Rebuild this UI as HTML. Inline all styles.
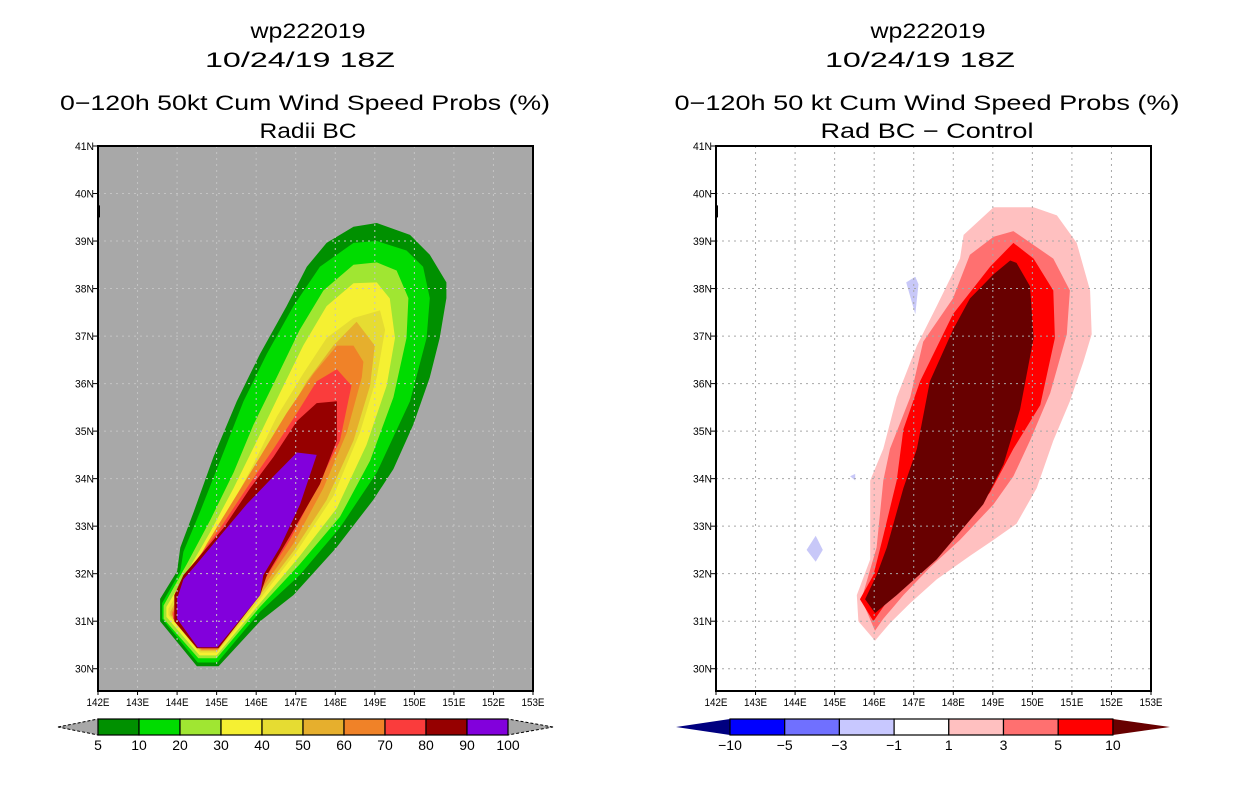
<!DOCTYPE html>
<html><head><meta charset="utf-8"><style>
html,body{margin:0;padding:0;background:#fff;width:1236px;height:800px;overflow:hidden}
svg{display:block;font-family:"Liberation Sans",sans-serif}
</style></head><body>
<svg id="fig" width="1236" height="800" viewBox="0 0 1236 800" xmlns="http://www.w3.org/2000/svg">
<g font-size="21" text-anchor="middle" fill="#000">
<text x="308" y="38" textLength="115" lengthAdjust="spacingAndGlyphs">wp222019</text>
<text x="300" y="67" textLength="190" lengthAdjust="spacingAndGlyphs">10/24/19 18Z</text>
<text x="305" y="110" textLength="490" lengthAdjust="spacingAndGlyphs">0−120h 50kt Cum Wind Speed Probs (%)</text>
<text x="308" y="138" textLength="97" lengthAdjust="spacingAndGlyphs">Radii BC</text>
</g>
<g font-size="21" text-anchor="middle" fill="#000">
<text x="928" y="38" textLength="115" lengthAdjust="spacingAndGlyphs">wp222019</text>
<text x="920" y="67" textLength="190" lengthAdjust="spacingAndGlyphs">10/24/19 18Z</text>
<text x="927" y="110" textLength="505" lengthAdjust="spacingAndGlyphs">0−120h 50 kt Cum Wind Speed Probs (%)</text>
<text x="927" y="138" textLength="213" lengthAdjust="spacingAndGlyphs">Rad BC − Control</text>
</g>
</svg>
<script>
// ---- data (lon, lat) ----
const lonTicks=[142,143,144,145,146,147,148,149,150,151,152,153];
const latTicks=[30,31,32,33,34,35,36,37,38,39,40,41];
const leftLevels=["5","10","20","30","40","50","60","70","80","90","100"];
const leftColors=["#009000","#00dc00","#a0e632","#f5f032","#e6dc32","#e6af2d","#f08228","#fa3c3c","#960000","#8200dc"];
const rightLevels=["−10","−5","−3","−1","1","3","5","10"];
const rightColors=["#0000ff","#7070ff","#c8c8ff","#ffffff","#ffc0c0","#ff7070","#ff0000"];
const prob5=[[143.57,31.47],[143.57,31.0],[144.5,30.05],[145.05,30.05],[146.1,31.0],[146.94,31.55],[148.03,32.55],[148.96,33.55],[149.47,34.2],[149.97,35.13],[150.39,36.13],[150.64,36.96],[150.81,37.8],[150.81,38.13],[150.39,38.71],[149.89,39.13],[149.05,39.38],[148.46,39.3],[147.78,38.96],[147.28,38.46],[146.77,37.63],[146.1,36.63],[145.51,35.63],[144.92,34.46],[144.42,33.3],[144.08,32.55],[144.0,32.05]];
const prob10=[[143.62,31.38],[143.62,31.05],[144.52,30.13],[145.02,30.13],[146.1,31.2],[147.1,31.97],[148.12,32.97],[149.05,34.13],[149.89,35.63],[150.31,36.96],[150.39,37.8],[150.22,38.46],[149.8,38.8],[149.05,39.0],[148.46,38.96],[147.61,38.46],[146.94,37.63],[146.27,36.63],[145.68,35.63],[145.17,34.55],[144.58,33.3],[144.16,32.46],[144.08,32.05]];
const prob20=[[143.66,31.33],[143.66,31.05],[144.54,30.22],[145.0,30.22],[146.1,31.3],[147.1,32.2],[148.12,33.2],[148.88,34.38],[149.47,35.71],[149.8,36.96],[149.85,37.8],[149.55,38.38],[149.05,38.55],[148.46,38.5],[147.7,37.96],[147.1,37.13],[146.52,36.13],[145.93,35.13],[145.43,34.13],[144.84,33.13],[144.25,32.21]];
const prob30=[[143.73,31.3],[143.73,31.09],[144.57,30.28],[145.0,30.28],[146.1,31.38],[147.11,32.38],[148.04,33.38],[148.79,34.71],[149.3,35.96],[149.51,36.96],[149.38,37.79],[149.05,38.13],[148.46,38.11],[147.78,37.63],[147.19,36.8],[146.6,35.8],[146.02,34.8],[145.43,33.8],[144.84,32.88],[144.29,32.09]];
const prob40=[[143.78,31.26],[143.78,31.13],[144.58,30.34],[145.0,30.34],[146.1,31.47],[147.03,32.47],[147.95,33.63],[148.62,34.96],[149.05,36.13],[149.26,37.13],[149.13,37.54],[148.46,37.38],[147.78,36.96],[147.19,36.21],[146.52,35.3],[145.93,34.3],[145.34,33.38],[144.75,32.55],[144.33,32.05]];
const prob50=[[143.83,31.2],[143.83,31.13],[144.6,30.38],[145.02,30.38],[146.1,31.55],[146.94,32.47],[147.78,33.55],[148.46,34.8],[148.88,35.96],[149.0,36.8],[148.54,37.3],[147.95,36.8],[147.28,36.05],[146.6,35.05],[145.93,34.05],[145.26,33.13],[144.58,32.3],[144.37,32.05]];
const prob60=[[143.87,31.18],[143.87,31.13],[144.62,30.4],[145.02,30.4],[146.1,31.63],[146.94,32.63],[147.7,33.8],[148.29,34.96],[148.67,36.13],[148.71,36.46],[148.46,36.8],[148.04,36.8],[147.45,36.21],[146.77,35.38],[146.1,34.46],[145.43,33.55],[144.75,32.63],[144.42,32.13]];
const prob70=[[143.9,31.17],[143.9,31.05],[144.65,30.43],[145.02,30.43],[146.1,31.72],[146.86,32.72],[147.53,33.8],[148.12,34.8],[148.41,35.96],[148.04,36.3],[147.53,36.05],[147.03,35.38],[146.44,34.63],[145.76,33.8],[145.09,32.96],[144.5,32.3]];
const prob80=[[143.93,31.55],[143.93,31.0],[144.5,30.43],[145.05,30.43],[146.1,31.55],[146.27,31.97],[146.86,32.8],[147.61,33.88],[148.04,34.8],[148.04,35.63],[147.53,35.59],[147.03,35.21],[146.44,34.46],[145.85,33.8],[145.17,32.96],[144.5,32.3],[144.16,31.97]];
const prob90=[[144.0,31.47],[144.0,31.05],[144.52,30.45],[145.02,30.45],[146.1,31.55],[146.18,31.97],[146.6,32.55],[147.11,33.46],[147.53,34.5],[147.03,34.55],[146.44,34.05],[145.76,33.46],[145.09,32.8],[144.5,32.21],[144.16,31.88]];
const diff1=[[146.02,30.59],[145.6,31.0],[145.56,31.55],[145.9,32.3],[145.9,33.96],[146.23,34.63],[146.57,35.71],[147.08,36.8],[147.58,37.63],[148.17,38.63],[148.26,39.13],[149.02,39.71],[150.03,39.71],[150.62,39.54],[151.12,38.96],[151.46,37.96],[151.5,37.04],[151.29,36.46],[150.95,35.63],[150.53,34.8],[150.11,33.8],[149.6,33.05],[149.02,32.71],[148.43,32.38],[147.58,31.88],[146.91,31.38],[146.4,30.96]];
const diff3=[[146.02,30.8],[145.68,31.46],[146.06,32.55],[146.23,33.96],[146.4,34.63],[146.91,35.71],[147.24,36.88],[147.99,37.79],[148.42,38.71],[149.02,39.09],[149.52,39.21],[150.53,38.63],[150.95,37.96],[150.87,37.04],[150.45,35.8],[149.94,34.8],[149.52,34.05],[149.02,33.46],[148.17,32.71],[147.41,32.13],[146.74,31.55],[146.23,31.05]];
const diff5=[[145.98,31.0],[145.64,31.46],[145.98,31.97],[146.23,32.8],[146.57,33.96],[146.74,35.04],[147.16,36.05],[147.99,37.46],[148.93,38.46],[149.52,38.96],[150.03,38.63],[150.53,37.96],[150.57,36.96],[150.2,35.55],[149.52,34.63],[148.93,33.71],[148.08,32.88],[147.24,32.3],[146.57,31.71]];
const diff10=[[145.77,31.46],[146.02,31.17],[146.57,31.55],[147.58,32.3],[148.76,33.46],[149.27,34.3],[149.69,35.46],[150.03,36.96],[149.94,38.05],[149.6,38.54],[149.44,38.59],[149.02,38.3],[148.42,37.79],[147.99,37.13],[147.41,36.05],[147.08,34.63],[146.74,33.8],[146.32,32.55],[146.06,31.97]];
const diffNeg1a=[[146.81,38.13],[147.04,38.25],[147.12,38.09],[147.04,37.46]];
const diffNeg1b=[[145.39,34.05],[145.52,34.1],[145.52,33.96]];
const diffNeg1c=[[144.29,32.5],[144.52,32.8],[144.7,32.5],[144.52,32.25]];

const NS="http://www.w3.org/2000/svg";
const svg=document.getElementById('fig');
function mk(tag,attrs,parent){const e=document.createElementNS(NS,tag);for(const k in attrs)e.setAttribute(k,attrs[k]);(parent||svg).appendChild(e);return e;}
const plotTop=146,plotBot=691,plotW=435,lat0=41,pxLat=47.52;
function makeAxes(x0){return{x:lon=>x0+(lon-142)*plotW/11,y:lat=>plotTop+(lat0-lat)*pxLat};}
function poly(g,ax,pts,fill){return mk('polygon',{points:pts.map(p=>ax.x(p[0]).toFixed(1)+','+ax.y(p[1]).toFixed(1)).join(' '),fill:fill},g);}

function drawPanel(x0,bg,layers,colors,name,gridCol){
  const ax=makeAxes(x0);
  const g=mk('g',{});
  
  
  const cid='clip'+x0;
  const cp=mk('clipPath',{id:cid},g);mk('rect',{x:x0,y:plotTop,width:plotW,height:plotBot-plotTop},cp);
  mk('rect',{x:x0,y:plotTop,width:plotW,height:plotBot-plotTop,fill:bg},g);
  const fg=mk('g',{'clip-path':'url(#'+cid+')'},g);
  layers.forEach((L,i)=>{const p=poly(fg,ax,L,colors[i]);
    
    });
  const grid=mk('g',{stroke:gridCol,'stroke-width':1,'stroke-dasharray':'2,4'},g);
  
  
  lonTicks.slice(1,-1).forEach(l=>mk('line',{x1:ax.x(l),x2:ax.x(l),y1:plotTop,y2:plotBot},grid));
  latTicks.slice(0,-1).forEach(l=>mk('line',{x1:x0,x2:x0+plotW,y1:ax.y(l),y2:ax.y(l)},grid));
  const fr=mk('rect',{x:x0,y:plotTop,width:plotW,height:plotBot-plotTop,fill:'none',stroke:'#000','stroke-width':2},g);
  
  
  const xl=mk('g',{'font-size':11,'text-anchor':'middle'},g);
  
  
  lonTicks.forEach(l=>{mk('line',{x1:ax.x(l),x2:ax.x(l),y1:plotBot,y2:plotBot+4,stroke:'#000'},xl);const t=mk('text',{x:ax.x(l),y:706,textLength:23,lengthAdjust:'spacingAndGlyphs'},xl);t.textContent=l+'E';});
  const yl=mk('g',{'font-size':11,'text-anchor':'end'},g);
  
  
  latTicks.forEach(l=>{mk('line',{x1:x0-5,x2:x0,y1:ax.y(l),y2:ax.y(l),stroke:'#000'},yl);const t=mk('text',{x:x0-4,y:ax.y(l)+4,textLength:19,lengthAdjust:'spacingAndGlyphs'},yl);t.textContent=l+'N';});
  mk('rect',{x:x0-1,y:ax.y(39.75),width:3,height:12,fill:'#000'},g);
  return {ax,g};
}
drawPanel(98,'#a8a8a8',[prob5,prob10,prob20,prob30,prob40,prob50,prob60,prob70,prob80,prob90],leftColors,'left-map-panel','#c4c4c4');
drawPanel(716,'#ffffff',[diff1,diff3,diff5,diff10,diffNeg1a,diffNeg1b,diffNeg1c],['#ffc0c0','#ff7070','#ff0000','#680000','#c8c8f8','#c8c8f8','#c8c8f8'],'right-map-panel','#a8a8a8');

function colorbar(x0,seg,colors,labels,tipL,tipR,tipLx,tipRx,name,dashed){
  const g=mk('g',{});
  
  
  const y0=719,y1=735,ym=727;
  const xe=x0+seg*colors.length;
  mk('polygon',{points:`${tipLx},${ym} ${x0},${y0} ${x0},${y1}`,fill:tipL,stroke:dashed?'#000':'none','stroke-dasharray':'3,2','stroke-width':1},g);
  mk('polygon',{points:`${tipRx},${ym} ${xe},${y0} ${xe},${y1}`,fill:tipR,stroke:dashed?'#000':'none','stroke-dasharray':'3,2','stroke-width':1},g);
  colors.forEach((c,i)=>{const r=mk('rect',{x:x0+i*seg,y:y0,width:seg,height:y1-y0,fill:c,stroke:'#000','stroke-width':1.2},g);
    
    });
  labels.forEach((s,i)=>{const t=mk('text',{x:x0+i*seg,y:750,'font-size':14,'text-anchor':'middle'},g);t.textContent=s;});
}
colorbar(98,41,leftColors,leftLevels,'#a8a8a8','#a8a8a8',58,553,'left-colorbar',true);
colorbar(730,54.7,rightColors,rightLevels,'#000080','#680000',676,1170,'right-colorbar',false);
</script>
</body></html>
